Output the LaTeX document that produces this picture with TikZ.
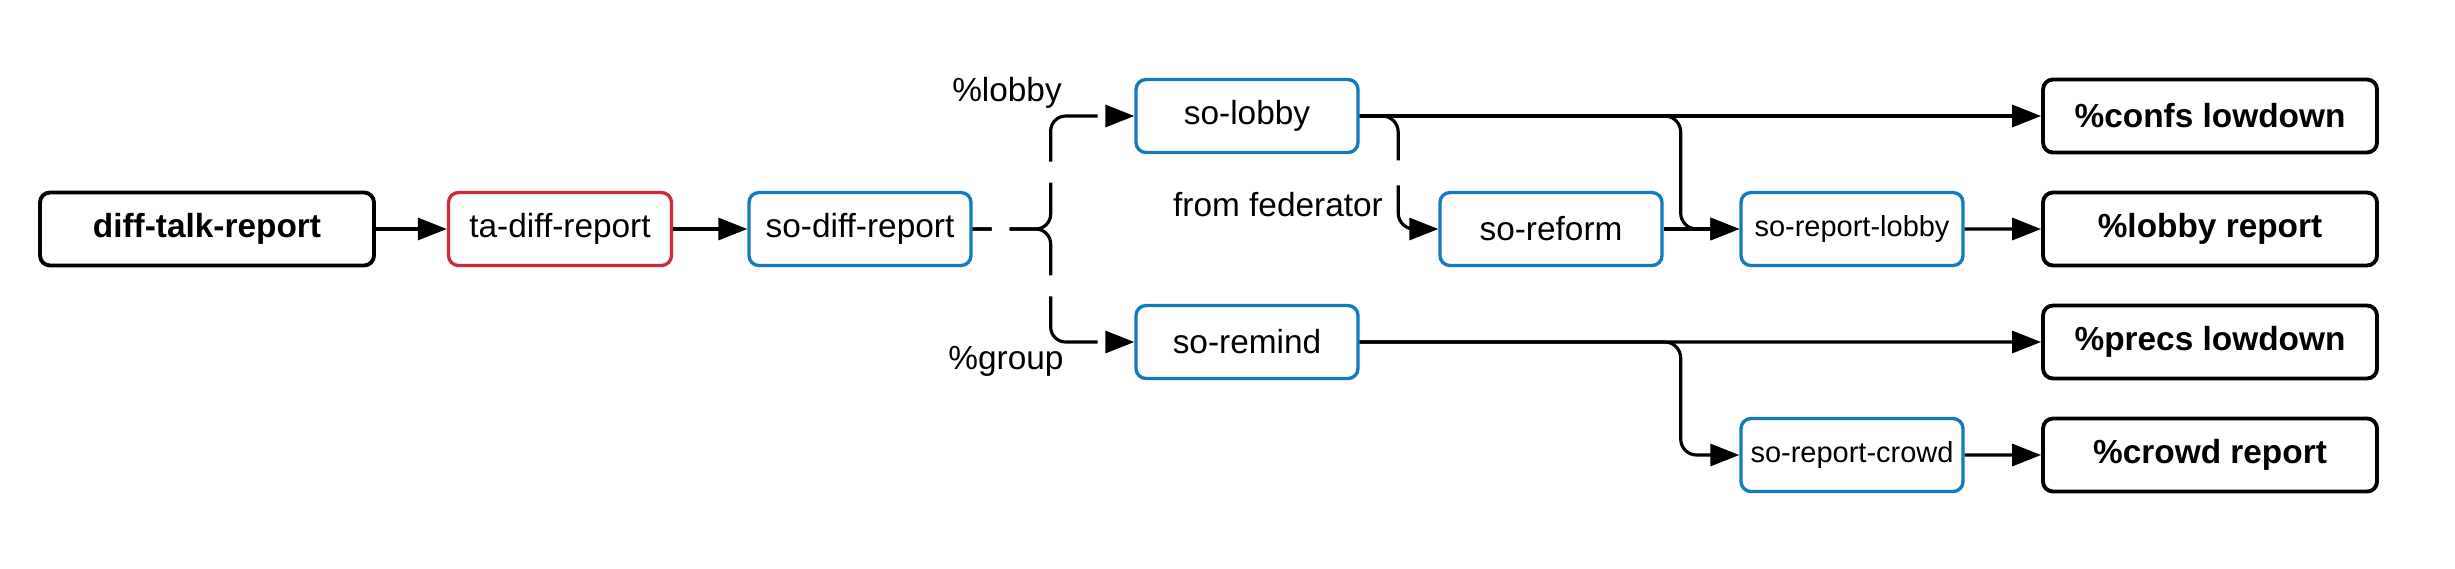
\documentclass[tikz,border=0pt]{standalone}
\usepackage{fontspec}
\setmainfont{Liberation Sans}
\usetikzlibrary{arrows.meta}

\definecolor{boxred}{RGB}{201,45,57}
\definecolor{boxblue}{RGB}{20,122,190}

\tikzset{
  every box/.style={draw, line width=0.95pt, rounded corners=1mm, fill=white,
    minimum height=7.3mm, inner sep=0pt},
  black box/.style={every box, line width=1.1pt, minimum width=33.4mm,
    font=\fontsize{9.5}{11}\selectfont\bfseries},
  red box/.style={every box, draw=boxred, minimum width=22.3mm},
  blue box/.style={every box, draw=boxblue, minimum width=22.2mm},
  small box/.style={blue box, font=\fontsize{8.25}{10}\selectfont},
  link/.style={->, line width=0.9pt, rounded corners=1.6mm},
  dashed link/.style={link, rounded corners=1.5mm,
    dash pattern=on 1.9mm off 1.8mm on 8.1mm off 2.1mm on 8.6mm off 5mm},
  broken link/.style={link, dash pattern=on 7.6mm off 2.5mm on 30mm off 1mm},
}

\begin{document}
\begin{tikzpicture}[x=1mm, y=1mm, >={Triangle[length=2.9mm, width=2.2mm]},
  font=\fontsize{9.5}{11}\selectfont]

\useasboundingbox (0,0) rectangle (245.5,-56.8);

\node [black box] (diff-talk-report) at (20.7,-22.9) {diff-talk-report};
\node [red box] (ta-diff-report) at (56.0,-22.9) {ta-diff-report};
\node [blue box] (so-diff-report) at (86.0,-22.9) {so-diff-report};

\foreach \m/\y in {so-lobby/-11.6, so-remind/-34.2}
  \node [blue box] (\m) at (124.7,\y) {\m};

\node [blue box] (so-reform) at (155.1,-22.9) {so-reform};

\foreach \m/\y in {so-report-lobby/-22.9, so-report-crowd/-45.5}
  \node [small box] (\m) at (185.2,\y) {\m};

\foreach \l/\n [count=\y from 0] in {{\%confs lowdown}/confs-lowdown, {\%lobby report}/lobby-report, {\%precs lowdown}/precs-lowdown, {\%crowd report}/crowd-report}
  \node [black box] (\n) at (221.0,-11.6-11.3*\y) {\l};

\node (label-lobby) at (100.7,-9.3) {\%lobby};
\node (label-group) at (100.6,-36.1) {\%group};
\node (label-federator) at (127.8,-20.5) {from federator};

\draw [link] (diff-talk-report) -- (ta-diff-report);
\draw [link] (ta-diff-report) -- (so-diff-report);

\foreach \t in {so-lobby, so-remind}
  \draw [dashed link] (so-diff-report.east) -- ++(7.8,0) |- (\t.west);

\draw [link] (so-lobby.east) -- (confs-lowdown.west);
\draw [broken link] (so-lobby.east) -- ++(3.85,0) |- (so-reform.west);
\draw [link] (so-lobby.east) -- ++(32.1,0) |- (so-report-lobby.west);
\draw [link] (so-reform) -- (so-report-lobby);

\draw [link] (so-remind.east) -- (precs-lowdown.west);
\draw [link] (so-remind.east) -- ++(32.1,0) |- (so-report-crowd.west);

\draw [link] (so-report-lobby) -- (lobby-report);
\draw [link] (so-report-crowd) -- (crowd-report);

\end{tikzpicture}
\end{document}
